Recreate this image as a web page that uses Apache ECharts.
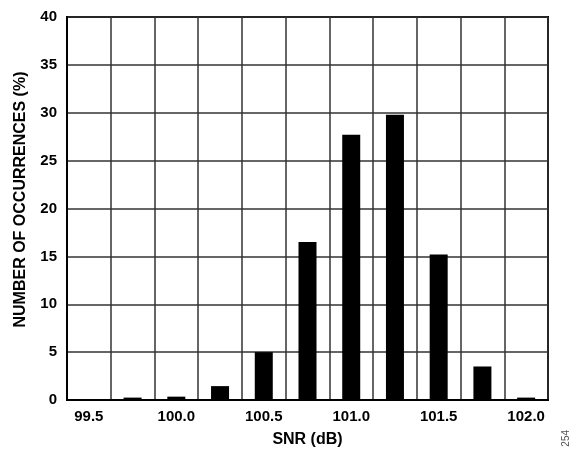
<!DOCTYPE html>
<html>
<head>
<meta charset="utf-8">
<script src="https://cdn.jsdelivr.net/npm/echarts@6/dist/echarts.min.js"></script>
<style>
html, body { margin: 0; padding: 0; background: #fff; }
#main { width: 580px; height: 455px; }
</style>
</head>
<body>
<div id="main"></div>
<script>
// SNR bins (dB), every other one is labelled
var snrBins = ['99.5', '99.75', '100.0', '100.25', '100.5', '100.75', '101.0', '101.25', '101.5', '101.75', '102.0'];
// occurrences (%)
var occurrences = [0, 0.25, 0.35, 1.45, 5.0, 16.5, 27.7, 29.8, 15.2, 3.5, 0.25];
var yTicks = [0, 5, 10, 15, 20, 25, 30, 35, 40];

var myChart = echarts.init(document.getElementById('main'));
var font = 'Liberation Sans, Arial, sans-serif';

option = {
	animation: false,
	grid: {
		left: 67,
		right: 32,
		top: 17,
		bottom: 55,
		show: true,
		borderColor: '#000',
		borderWidth: 2
	},
	xAxis: {
		type: 'category',
		data: snrBins,
		boundaryGap: true,
		name: 'SNR (dB)',
		nameLocation: 'middle',
		nameGap: 32,
		nameTextStyle: { color: '#000', fontSize: 16, fontWeight: 'bold', fontFamily: font },
		axisLine: { lineStyle: { color: '#000', width: 2 } },
		axisTick: { show: false },
		axisLabel: {
			interval: 1,
			margin: 9,
			color: '#000',
			fontSize: 15,
			fontWeight: 'bold',
			fontFamily: font
		},
		splitLine: {
			show: true,
			interval: 0,
			lineStyle: { color: '#333', width: 1.5 }
		}
	},
	yAxis: {
		type: 'value',
		min: yTicks[0],
		max: yTicks[yTicks.length - 1],
		interval: 5,
		name: 'NUMBER OF OCCURRENCES (%)',
		nameLocation: 'middle',
		nameRotate: 90,
		nameGap: 38,
		nameTextStyle: {
			color: '#000', fontSize: 16, fontWeight: 'bold', fontFamily: font,
			padding: [0, 0, 0, 18]
		},
		axisLine: { show: true, lineStyle: { color: '#000', width: 2 } },
		axisTick: { show: false },
		axisLabel: {
			margin: 10,
			color: '#000',
			fontSize: 15,
			fontWeight: 'bold',
			fontFamily: font
		},
		splitLine: {
			show: true,
			lineStyle: { color: '#333', width: 1.5 }
		}
	},
	series: [{
		type: 'bar',
		data: occurrences,
		barWidth: 18,
		itemStyle: { color: '#000' }
	}],
	graphic: [{
		type: 'text',
		left: 561,
		top: 430,
		rotation: Math.PI / 2,
		style: {
			text: '254',
			fill: '#555',
			fontSize: 10,
			fontFamily: font
		}
	}]
};

myChart.setOption(option);
window.addEventListener("resize", function () {
	myChart.resize();
});
</script>
</body>
</html>
